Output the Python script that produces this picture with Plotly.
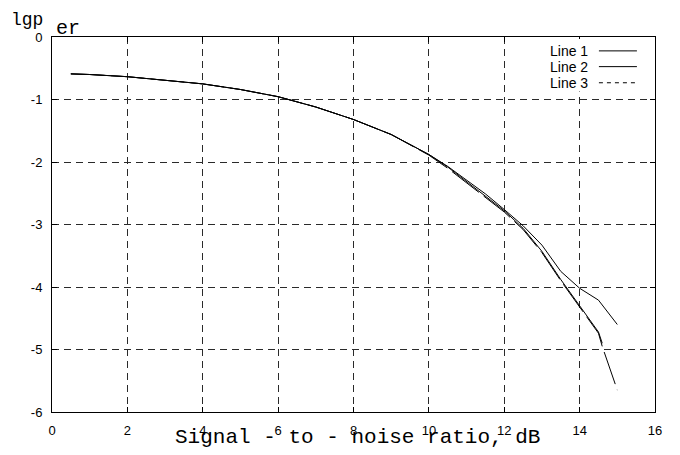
import math
import plotly.graph_objects as go

# ---- data ----
series_names = ["Line 1", "Line 2", "Line 3"]

x1 = [0.5, 1, 2, 3, 4, 5, 6, 7, 8, 9, 10, 10.5, 11, 11.5, 12, 12.5, 13, 13.5, 14, 14.5, 15]
y1 = [-0.59, -0.60, -0.635, -0.69, -0.75, -0.84, -0.955, -1.12, -1.32, -1.56, -1.88, -2.07,
      -2.29, -2.51, -2.76, -3.02, -3.33, -3.75, -4.02, -4.21, -4.6]

x2 = [0.5, 1, 2, 3, 4, 5, 6, 7, 8, 9, 10, 10.5, 11, 11.5, 12, 12.5, 13, 13.5, 14, 14.5, 14.6]
y2 = [-0.59, -0.60, -0.635, -0.69, -0.75, -0.84, -0.955, -1.12, -1.32, -1.56, -1.88, -2.08,
      -2.31, -2.54, -2.78, -3.06, -3.43, -3.88, -4.3, -4.72, -4.9]

x3 = [0.5, 1, 2, 3, 4, 5, 6, 7, 8, 9, 10, 10.5, 11, 11.5, 12, 12.5, 13, 13.5, 14, 14.5, 14.6, 15]
y3 = [-0.59, -0.60, -0.635, -0.69, -0.75, -0.84, -0.955, -1.12, -1.32, -1.56, -1.89, -2.10,
      -2.33, -2.56, -2.80, -3.08, -3.45, -3.9, -4.32, -4.74, -4.95, -5.65]

x_ticks = [0, 2, 4, 6, 8, 10, 12, 14, 16]
y_ticks = [0, -1, -2, -3, -4, -5, -6]

x_title = "Signal - to - noise ratio, dB"
y_title_main = "lgp"
y_title_sub = "er"

# ---- layout geometry ----
W, H = 680, 455
M = dict(l=52, r=25, t=37, b=43)
x_range, y_range = [0, 16], [-6, 0]
sx = (W - M["l"] - M["r"]) / (x_range[1] - x_range[0])
sy = (H - M["t"] - M["b"]) / (y_range[1] - y_range[0])

# dash pattern for line 3 so that the visible gap falls where the solid twin ends
gap = 6.0
s = 0.0
for i in range(1, len(x3)):
    if x3[i] > x2[-1]:
        break
    s += math.hypot((x3[i] - x3[i - 1]) * sx, (y3[i] - y3[i - 1]) * sy)
n = max(1, round(s / 40))
dash_len = (s - (n - 1) * gap) / n
line3_dash = f"{dash_len:.2f}px,{gap:.0f}px"

# ---- figure ----
fig = go.Figure()
dashes = ["solid", "solid", line3_dash]
for name, xs, ys, d in zip(series_names, [x1, x2, x3], [y1, y2, y3], dashes):
    fig.add_trace(go.Scatter(x=xs, y=ys, mode="lines", name=name, showlegend=False,
                             line=dict(color="black", width=1, dash=d)))

axis_common = dict(
    showline=True, linecolor="black", linewidth=1, mirror="ticks",
    ticks="inside", ticklen=5, tickcolor="black", tickwidth=1,
    showgrid=True, gridcolor="#2a2a2a", gridwidth=1, griddash="7px,5px",
    zeroline=False,
    tickfont=dict(family="Liberation Sans", size=13, color="black"),
)

fig.update_xaxes(range=x_range, tickvals=x_ticks, ticktext=[str(v) for v in x_ticks],
                 ticklabelstandoff=6, **axis_common)
fig.update_yaxes(range=y_range, tickvals=y_ticks, ticktext=[str(v) for v in y_ticks],
                 ticklabelstandoff=6, **axis_common)

# legend drawn manually (text left of sample line), on a white box
annotations = []
shapes = [dict(type="rect", xref="paper", yref="paper", x0=0.815, x1=0.985,
               y0=0.855, y1=0.995, fillcolor="white", line=dict(width=0), layer="above")]
leg_y = [0.963, 0.921, 0.878]
leg_dash = ["solid", "solid", "4px,4px"]
for name, yy, d in zip(series_names, leg_y, leg_dash):
    annotations.append(dict(x=0.892, y=yy, xref="paper", yref="paper", text=name,
                            showarrow=False, xanchor="right", yanchor="middle",
                            font=dict(family="Liberation Sans", size=14, color="black")))
    shapes.append(dict(type="line", xref="paper", yref="paper", x0=0.907, x1=0.970,
                       y0=yy, y1=yy, line=dict(color="black", width=1, dash=d)))

annotations.append(dict(x=0.506, y=-0.069, xref="paper", yref="paper", text=x_title,
                        showarrow=False, xanchor="center", yanchor="middle",
                        font=dict(family="Liberation Mono", size=21, color="black")))
annotations.append(dict(x=-0.0415, y=1.045, xref="paper", yref="paper", text=y_title_main,
                        showarrow=False, xanchor="center", yanchor="middle",
                        font=dict(family="Liberation Mono", size=18, color="black")))
annotations.append(dict(x=0.0265, y=1.022, xref="paper", yref="paper", text=y_title_sub,
                        showarrow=False, xanchor="center", yanchor="middle",
                        font=dict(family="Liberation Mono", size=20, color="black")))

fig.update_layout(
    width=W, height=H,
    margin=M,
    paper_bgcolor="white", plot_bgcolor="white",
    showlegend=False,
    annotations=annotations, shapes=shapes,
)

fig.write_html("out.html")
